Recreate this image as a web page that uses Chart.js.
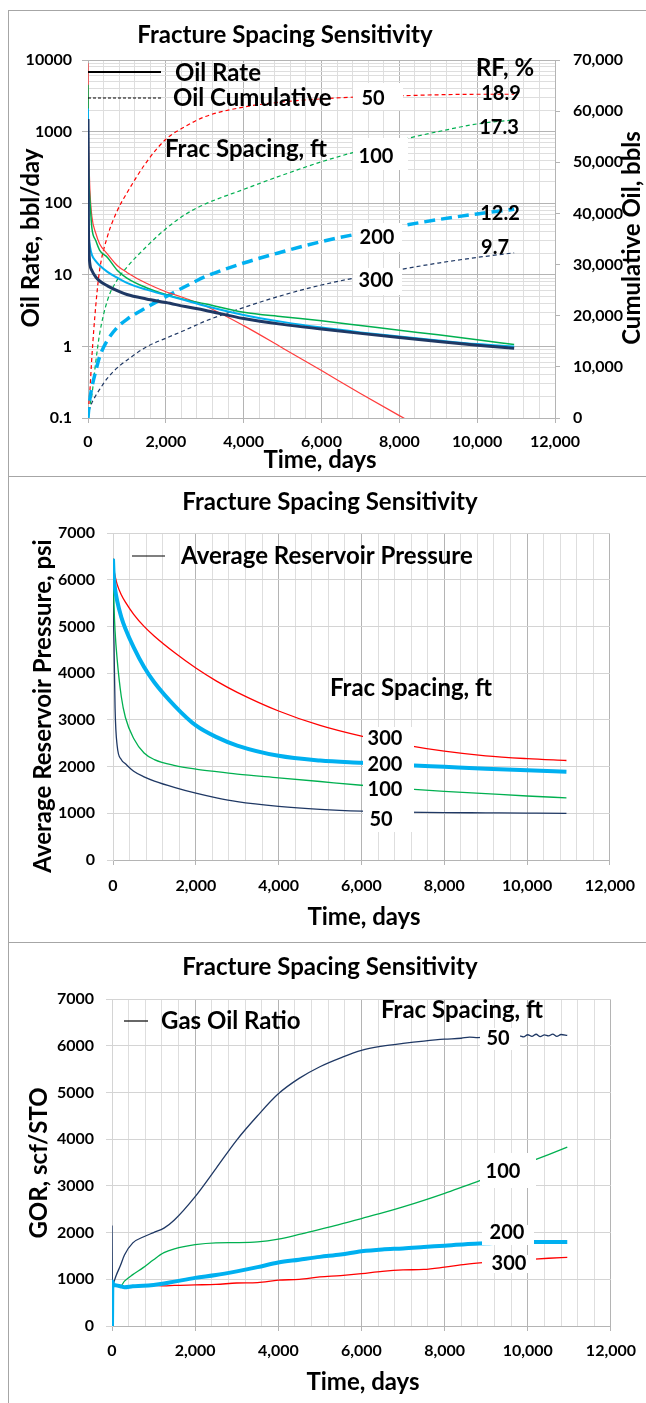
<!DOCTYPE html>
<html>
<head>
<meta charset="utf-8">
<title>Fracture Spacing Sensitivity</title>
<script src="https://cdn.jsdelivr.net/npm/chart.js@4.4.0/dist/chart.umd.min.js"></script>
<style>
  body { margin: 0; background: #fff; overflow: hidden; }
  .panel { position: absolute; left: 8px; width: 637px; border-left: 1px solid #a6a6a6; border-top: 1px solid #a6a6a6; }
  .panel canvas { display: block; }
</style>
</head>
<body>
<div class="panel" style="top:10px"><canvas id="rateChart" width="637" height="465"></canvas></div>
<div class="panel" style="top:476px"><canvas id="pressureChart" width="637" height="465"></canvas></div>
<div class="panel" style="top:942px"><canvas id="gorChart" width="637" height="460"></canvas></div>
<script>
// time samples (days)
const days = [0, 10, 25, 50, 100, 200, 300, 500, 750, 1000, 1500, 2000, 2500, 3000, 4000, 5000, 6000, 7000, 8000, 9000, 10000, 10950];

// oil rate, bbl/day
const rate50 = [9000, 1200, 420, 150, 65, 38, 27, 19.5, 13.5, 10.8, 7.6, 5.8, 4.7, 3.7, 1.95, 0.95, 0.46, 0.22, 0.108, 0.054, null, null];
const rate100 = [4500, 500, 200, 110, 45, 30, 22, 17.5, 11.6, 9.0, 6.6, 5.3, 4.5, 3.95, 3.0, 2.6, 2.28, 1.96, 1.68, 1.45, 1.24, 1.06];
const rate200 = [2100, 60, 32, 25, 19, 15.5, 13.5, 11, 9.1, 7.7, 6.2, 5.2, 4.4, 3.7, 2.75, 2.2, 1.83, 1.57, 1.37, 1.21, 1.08, 1.0];
const rate300 = [1500, 60, 22, 14, 11.5, 9.3, 8.2, 7.0, 6.0, 5.3, 4.6, 4.1, 3.6, 3.2, 2.45, 2.03, 1.75, 1.52, 1.33, 1.17, 1.04, 0.94];

// cumulative oil, bbls
const cum50 = [0, 1200, 3000, 5500, 12000, 22000, 29000, 35500, 40500, 44000, 50000, 54500, 57000, 58900, 60800, 61800, 62400, 62800, 63000, 63200, 63300, 63300];
const cum100 = [0, 500, 1200, 2500, 4500, 11000, 16500, 23000, 27000, 29500, 33500, 37000, 39800, 41800, 44700, 47500, 50100, 52300, 54300, 56000, 57500, 58300];
const cum200 = [0, 1000, 2200, 3800, 6000, 9200, 12000, 15200, 17700, 19300, 21600, 23700, 25700, 27600, 30300, 32500, 34500, 36100, 37500, 38800, 39900, 40800];
const cum300 = [0, 500, 1200, 2000, 3000, 4400, 5600, 7800, 9800, 11300, 13900, 15600, 17200, 18900, 21600, 24000, 26000, 27600, 29000, 30300, 31400, 32300];

// average reservoir pressure, psi
const pres300 = [6450, 6300, 6200, 6080, 5900, 5680, 5520, 5260, 5000, 4790, 4430, 4110, 3830, 3590, 3190, 2880, 2650, 2470, 2330, 2230, 2170, 2130];
const pres200 = [6450, 6200, 6000, 5800, 5550, 5200, 4950, 4550, 4130, 3800, 3290, 2880, 2630, 2450, 2230, 2130, 2080, 2035, 1995, 1955, 1920, 1890];
const pres100 = [6450, 6000, 5450, 4900, 4300, 3500, 3050, 2600, 2290, 2150, 2020, 1945, 1890, 1840, 1760, 1680, 1600, 1530, 1470, 1420, 1370, 1330];
const pres50 = [6450, 5300, 4600, 3250, 2450, 2150, 2060, 1900, 1780, 1690, 1550, 1430, 1330, 1250, 1150, 1085, 1045, 1025, 1015, 1010, 1005, 1000];

// gas oil ratio, scf/STO
const gorDays = [0, 10, 25, 50, 100, 200, 300, 500, 750, 1000, 1250, 1500, 2000, 2500, 3000, 3500, 4000, 4500, 5000, 5500, 6000, 6500, 7000, 7500, 8000, 8500, 9000, 9500, 10000, 10500, 10950];
const gor100 = [950, 920, 900, 880, 870, 850, 960, 1100, 1250, 1420, 1570, 1650, 1740, 1780, 1785, 1800, 1860, 1960, 2070, 2180, 2300, 2420, 2550, 2690, 2840, 3000, 3160, 3330, 3500, 3670, 3830];
const gor200 = [0, 950, 900, 880, 870, 850, 830, 850, 860, 880, 910, 950, 1030, 1090, 1170, 1260, 1360, 1420, 1480, 1530, 1600, 1640, 1660, 1690, 1720, 1750, 1770, 1790, 1800, 1800, 1800];
const gor300 = [950, 920, 900, 880, 860, 850, 840, 850, 860, 870, 860, 870, 880, 890, 920, 930, 980, 1000, 1050, 1080, 1120, 1170, 1200, 1210, 1260, 1320, 1360, 1390, 1420, 1450, 1470];
const gor50Days = [0, 10, 25, 50, 100, 200, 300, 500, 750, 1000, 1250, 1500, 2000, 2500, 3000, 3500, 4000, 4500, 5000, 5500, 6000, 6500, 7000, 7500, 8000, 8400, 8600, 8800, 9800, 9900, 10000, 10100, 10200, 10300, 10400, 10500, 10600, 10700, 10800, 10950];
const gor50 = [2150, 800, 880, 950, 1080, 1290, 1520, 1780, 1905, 2000, 2095, 2270, 2770, 3370, 3980, 4500, 4970, 5300, 5550, 5740, 5900, 5990, 6050, 6100, 6140, 6160, 6185, 6175, 6210, 6190, 6235, 6200, 6245, 6195, 6230, 6210, 6250, 6200, 6240, 6220];

// tick labels
const rateTicks = [0.1, 1, 10, 100, 1000, 10000];
const spacingLabels = ['50', '100', '200', '300'];
const rfLabels = ['18.9', '17.3', '12.2', '9.7'];

const RED = '#ff0000', GREEN = '#00b050', BLUE = '#00b0f0', NAVY = '#1f3864';
const GRID_MAJOR = '#b4b4b4', GRID_MINOR = '#dedede';

Chart.defaults.font.family = 'Lato';
Chart.defaults.font.size = 16;
Chart.defaults.font.weight = 'bold';
Chart.defaults.color = '#000';

function pts(xs, ys) {
  return xs.map((x, i) => ({ x: x, y: ys[i] }));
}

function line(data, color, width, dash, axis) {
  return {
    data: data, borderColor: color, borderWidth: width, borderDash: dash || [],
    yAxisID: axis || 'y', pointRadius: 0, fill: false, cubicInterpolationMode: 'monotone'
  };
}

// minor grid every 400 days, labels every 2000
function timeAxis(height, pad) {
  return {
    type: 'linear', min: 0, max: 12000,
    ticks: {
      stepSize: 400, autoSkip: false, maxRotation: 0, padding: pad,
      callback: v => v % 2000 === 0 ? v.toLocaleString('en-US') : ''
    },
    grid: {
      tickLength: 5,
      color: c => c.tick && c.tick.value % 2000 === 0 ? GRID_MAJOR : GRID_MINOR,
      tickColor: c => c.tick && c.tick.value % 2000 === 0 ? GRID_MAJOR : 'rgba(0,0,0,0)'
    },
    border: { color: GRID_MAJOR },
    afterFit: s => { s.height = height; }
  };
}

function valueAxis(width) {
  return {
    min: 0, max: 7000,
    ticks: { stepSize: 1000, padding: 12, callback: v => String(v) },
    grid: { color: '#d4d4d4', tickLength: 6 },
    border: { color: '#d4d4d4' },
    afterFit: s => { s.width = width; }
  };
}

// white label boxes, legend keys and all free text
function overlay(cfg) {
  return {
    id: 'overlay',
    afterDraw(chart) {
      const ctx = chart.ctx;
      ctx.save();
      ctx.fillStyle = '#fff';
      cfg.boxes.forEach(b => ctx.fillRect(b[0], b[1], b[2], b[3]));
      ctx.strokeStyle = '#000';
      cfg.keys.forEach(k => {
        ctx.lineWidth = k.w;
        ctx.setLineDash(k.dash || []);
        ctx.beginPath();
        ctx.moveTo(k.x1, k.y);
        ctx.lineTo(k.x2, k.y);
        ctx.stroke();
      });
      ctx.setLineDash([]);
      ctx.fillStyle = '#000';
      ctx.textBaseline = 'middle';
      cfg.texts.forEach(t => {
        ctx.save();
        ctx.font = 'bold ' + (t.size || 24) + 'px Lato';
        ctx.textAlign = t.align || 'center';
        ctx.translate(t.x, t.y);
        if (t.up) ctx.rotate(-Math.PI / 2);
        ctx.fillText(t.text, 0, 0);
        ctx.restore();
      });
      ctx.restore();
    }
  };
}

const baseOptions = {
  responsive: false, animation: false, devicePixelRatio: 1,
  plugins: { legend: { display: false }, tooltip: { enabled: false } }
};

// Oil rate + cumulative
const logTicks = rateTicks.slice(0, -1).flatMap(d => [1, 2, 3, 4, 5, 6, 7, 8, 9].map(m => d * m)).concat([10000]);

new Chart(document.getElementById('rateChart'), {
  type: 'line',
  data: {
    datasets: [
      line(pts(days, rate300), NAVY, 3),
      line(pts(days, rate200), BLUE, 2),
      line(pts(days, rate100), GREEN, 1.5),
      line(pts(days, rate50), '#ff3c3c', 1.2),
      line(pts(days, cum200), BLUE, 3.5, [11, 6], 'y2'),
      line(pts(days, cum50), RED, 1.2, [4, 3], 'y2'),
      line(pts(days, cum100), GREEN, 1.2, [4, 3], 'y2'),
      line(pts(days, cum300), NAVY, 1.2, [4, 3], 'y2')
    ]
  },
  options: Object.assign({}, baseOptions, {
    layout: { padding: { top: 49 } },
    scales: {
      x: timeAxis(58, 9),
      y: {
        type: 'logarithmic', position: 'left', min: 0.1, max: 10000,
        afterBuildTicks: s => { s.ticks = logTicks.map(v => ({ value: v })); },
        ticks: { autoSkip: false, padding: 10, callback: v => rateTicks.includes(v) ? String(v) : '' },
        grid: {
          tickLength: 6,
          color: c => c.tick && rateTicks.includes(c.tick.value) ? GRID_MAJOR : GRID_MINOR,
          tickColor: c => c.tick && rateTicks.includes(c.tick.value) ? GRID_MAJOR : 'rgba(0,0,0,0)'
        },
        border: { color: GRID_MAJOR },
        afterFit: s => { s.width = 79; }
      },
      y2: {
        position: 'right', min: 0, max: 70000,
        ticks: { stepSize: 10000, padding: 13, callback: v => v.toLocaleString('en-US') },
        grid: { drawOnChartArea: false, tickLength: 5, color: GRID_MAJOR },
        border: { color: GRID_MAJOR },
        afterFit: s => { s.width = 91; }
      }
    }
  }),
  plugins: [overlay({
    boxes: [[344, 72, 50, 27], [344, 127, 55, 32], [344, 212, 49, 29], [344, 257, 49, 27]],
    keys: [{ x1: 79, x2: 152, y: 61, w: 2 }, { x1: 79, x2: 152, y: 87, w: 1, dash: [3, 2] }],
    texts: [
      { text: 'Fracture Spacing Sensitivity', x: 276, y: 24 },
      { text: 'Oil Rate, bbl/day', x: 22, y: 227, up: true },
      { text: 'Cumulative Oil, bbls', x: 623, y: 227, up: true },
      { text: 'Time, days', x: 311, y: 449 },
      { text: 'Oil Rate', x: 166, y: 62, align: 'left' },
      { text: 'Oil Cumulative', x: 164, y: 87, align: 'left' },
      { text: 'Frac Spacing, ft', x: 156, y: 138, align: 'left' },
      { text: 'RF, %', x: 496, y: 57 },
      { text: rfLabels[0], x: 492, y: 83, size: 20 },
      { text: rfLabels[1], x: 490, y: 117, size: 20 },
      { text: rfLabels[2], x: 491, y: 203, size: 20 },
      { text: rfLabels[3], x: 486, y: 237, size: 20 },
      { text: spacingLabels[0], x: 364, y: 88, size: 20 },
      { text: spacingLabels[1], x: 367, y: 146, size: 20 },
      { text: spacingLabels[2], x: 368, y: 227, size: 20 },
      { text: spacingLabels[3], x: 367, y: 270, size: 20 }
    ]
  })]
});

// Average reservoir pressure
new Chart(document.getElementById('pressureChart'), {
  type: 'line',
  data: {
    datasets: [
      line(pts(days, pres200), BLUE, 4),
      line(pts(days, pres300), RED, 1.3),
      line(pts(days, pres100), GREEN, 1.3),
      line(pts(days, pres50), NAVY, 1.3)
    ]
  },
  options: Object.assign({}, baseOptions, {
    layout: { padding: { top: 56, right: 32 } },
    scales: { x: timeAxis(82, 11), y: valueAxis(104) }
  }),
  plugins: [overlay({
    boxes: [[354, 250, 51, 105]],
    keys: [{ x1: 123, x2: 156, y: 79, w: 1.2 }],
    texts: [
      { text: 'Fracture Spacing Sensitivity', x: 321, y: 25 },
      { text: 'Average Reservoir Pressure, psi', x: 34, y: 229, up: true },
      { text: 'Time, days', x: 355, y: 440 },
      { text: 'Average Reservoir Pressure', x: 172, y: 79, align: 'left' },
      { text: 'Frac Spacing, ft', x: 321, y: 211, align: 'left' },
      { text: spacingLabels[3], x: 376, y: 262, size: 20 },
      { text: spacingLabels[2], x: 376, y: 288, size: 20 },
      { text: spacingLabels[1], x: 376, y: 313, size: 20 },
      { text: spacingLabels[0], x: 372, y: 343, size: 20 }
    ]
  })]
});

// Gas oil ratio
new Chart(document.getElementById('gorChart'), {
  type: 'line',
  data: {
    datasets: [
      line(pts(gorDays, gor200), BLUE, 4),
      line(pts(gor50Days, gor50), NAVY, 1.3),
      line(pts(gorDays, gor100), GREEN, 1.3),
      line(pts(gorDays, gor300), RED, 1.3)
    ]
  },
  options: Object.assign({}, baseOptions, {
    layout: { padding: { top: 56, right: 32 } },
    scales: { x: timeAxis(77, 10), y: valueAxis(103) }
  }),
  plugins: [overlay({
    boxes: [[471, 85, 40, 22], [471, 210, 56, 35], [473, 282, 52, 20], [473, 312, 54, 18]],
    keys: [{ x1: 115, x2: 139, y: 78, w: 1.2 }],
    texts: [
      { text: 'Fracture Spacing Sensitivity', x: 321, y: 24 },
      { text: 'GOR, scf/STO', x: 30, y: 220, up: true },
      { text: 'Time, days', x: 354, y: 439 },
      { text: 'Gas Oil Ratio', x: 152, y: 78, align: 'left' },
      { text: 'Frac Spacing, ft', x: 372, y: 67, align: 'left' },
      { text: spacingLabels[0], x: 489, y: 96, size: 20 },
      { text: spacingLabels[1], x: 494, y: 229, size: 20 },
      { text: spacingLabels[2], x: 498, y: 290, size: 20 },
      { text: spacingLabels[3], x: 500, y: 321, size: 20 }
    ]
  })]
});
</script>
</body>
</html>
